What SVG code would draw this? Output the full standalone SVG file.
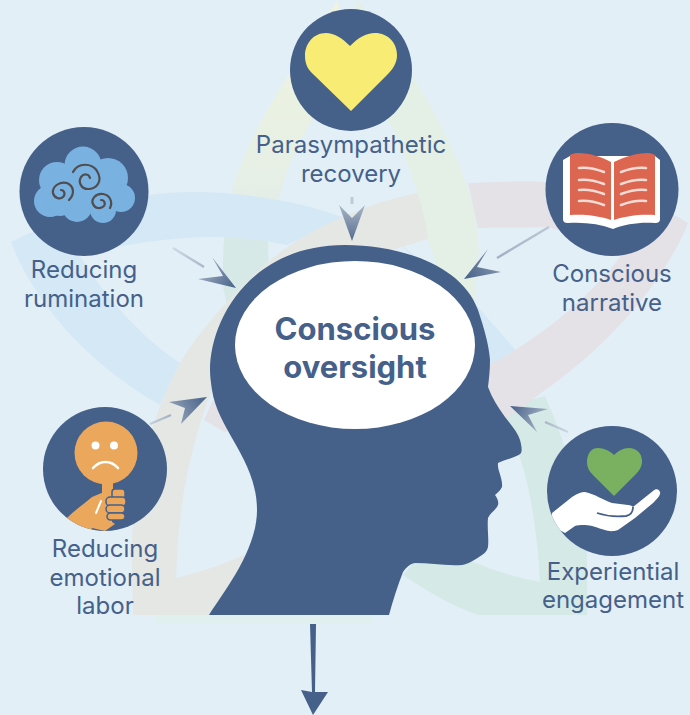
<svg xmlns="http://www.w3.org/2000/svg" width="690" height="715" viewBox="0 0 690 715">
<style>
.n{fill:#456089}
.t{font-family:"Inter","Liberation Sans",sans-serif;font-size:24px;fill:#456089;text-anchor:middle}
.c{font-family:"Inter","Liberation Sans",sans-serif;font-size:31px;font-weight:700;fill:#456089;text-anchor:middle}
.sp{fill:none;stroke:#4f4d4f;stroke-width:2.2;stroke-linecap:round}
.pl{fill:none;stroke:#f3dcd5;stroke-width:2.6;stroke-linecap:round}
.tail{stroke-width:2.4;fill:none}
</style>
<defs>
<linearGradient id="gl" x1="0" y1="0" x2="0" y2="1"><stop offset="0" stop-color="#eff4e0"/><stop offset=".6" stop-color="#e6efe6"/><stop offset=".78" stop-color="#d7e9e7"/><stop offset="1" stop-color="#d7e9e7"/></linearGradient>
<linearGradient id="a1" gradientUnits="userSpaceOnUse" x1="205" y1="268" x2="236" y2="288"><stop offset="0" stop-color="#9aa8bc"/><stop offset="1" stop-color="#456089"/></linearGradient>
<linearGradient id="a2" gradientUnits="userSpaceOnUse" x1="352" y1="205" x2="352" y2="241"><stop offset="0" stop-color="#a9b5c6"/><stop offset="1" stop-color="#566d90"/></linearGradient>
<linearGradient id="a3" gradientUnits="userSpaceOnUse" x1="501" y1="260" x2="464" y2="279"><stop offset="0" stop-color="#8b9ab0"/><stop offset="1" stop-color="#456089"/></linearGradient>
<linearGradient id="a4" gradientUnits="userSpaceOnUse" x1="170" y1="418" x2="207" y2="397"><stop offset="0" stop-color="#9aa8bc"/><stop offset="1" stop-color="#456089"/></linearGradient>
<linearGradient id="a5" gradientUnits="userSpaceOnUse" x1="545" y1="422" x2="510" y2="406"><stop offset="0" stop-color="#a9b5c6"/><stop offset="1" stop-color="#456089"/></linearGradient>
<linearGradient id="t1" gradientUnits="userSpaceOnUse" x1="173" y1="248" x2="204" y2="267"><stop offset="0" stop-color="#ced9e5"/><stop offset="1" stop-color="#aab6c8"/></linearGradient>
<linearGradient id="t3" gradientUnits="userSpaceOnUse" x1="549" y1="227" x2="497" y2="258"><stop offset="0" stop-color="#bcc8d6"/><stop offset="1" stop-color="#a3b0c3"/></linearGradient>
<linearGradient id="t4" gradientUnits="userSpaceOnUse" x1="150" y1="424" x2="171" y2="415"><stop offset="0" stop-color="#c5d0dc"/><stop offset="1" stop-color="#a3b0c3"/></linearGradient>
<linearGradient id="t5" gradientUnits="userSpaceOnUse" x1="568" y1="432" x2="545" y2="422"><stop offset="0" stop-color="#cdd8e3"/><stop offset="1" stop-color="#a9b5c6"/></linearGradient>
<clipPath id="ce"><circle cx="105" cy="469" r="62"/></clipPath>
<clipPath id="cx"><circle cx="612" cy="491" r="65"/></clipPath>
</defs>
<rect width="690" height="715" fill="#e2eff7"/>
<g id="ribbons">
<rect x="155" y="615" width="217" height="8" fill="#dff0ee"/>
<path fill="#d5e9e6" d="M545 396 C556 420 570 460 578 490 C584 515 587 535 587 557 L587 615 L478 615 C450 605 425 590 403 575 L420 555 L473 562 C495 571 518 578 540 582 C538 540 532 495 520 457 L495 410 Z"/>
<path fill="url(#gl)" d="M338 0 C300 55 250 130 233 187 C225 215 222 250 223 287 L228 310 L270 300 L268 240 C270 220 275 205 280 195 C287 165 300 140 312 120 L345 70 Z"/>
<path fill="#d5e8f5" d="M11 242 C60 218 100 203 149 195 C200 187 285 195 345 218 L287 245 C262 240 238 237 213 237 C170 237 120 245 80 255 C90 275 130 330 180 363 L160 405 C90 365 35 305 11 242 Z"/>
<path fill="#d5e8f5" d="M395 240 L478 307 L518 353 L492 367 L460 300 Z"/>
<path fill="#e4e7e3" d="M422 192 C365 203 305 230 267 263 C235 290 200 330 180 363 C150 420 130 490 132 563 L133 615 L215 615 L255 550 C230 562 205 571 176 578 L177 557 C180 500 190 450 208 400 C225 355 260 310 300 280 L345 265 L430 238 C432 236 432 235 431 233 Z"/>
<path fill="#e4e1e7" d="M213 400 L204 420 L225 432 L240 420 Z"/>
<path fill="#e4e1e7" d="M468 183 C490 182 520 181 545 182 L612 190 L678 217 L688 223 C665 280 610 345 545 390 L505 420 L480 385 L488 365 C530 345 590 300 625 250 L548 227 C525 228 500 227 478 228 Z"/>
<path fill="#e4efe6" d="M357 0 C400 50 450 130 470 195 C476 215 480 240 478 260 L475 300 L440 275 L428 240 C425 210 410 165 390 123 L345 60 Z"/>
</g>
<g id="head">
<path class="n" d="M209 615 C225 590 257 550 257 510 C257 460 218 430 212 390 C211 383 210 377 210 370 C210 320 250 245 345 245 C400 245 462 265 478 310 C484 328 489 345 490 360 C490 370 489 378 488 387 C492 398 498 407 505 417 C512 426 518 433 520 440 C522 447 522 451 521 453 C518 457 506 459 498 463 C497 470 503 478 502 487 C500 491 497 493 495 495 C497 498 499 501 498 505 C496 510 490 513 488 518 C487 528 489 538 488 547 C487 551 485 553 482 555 C475 560 468 564 462 565 C445 566 430 563 415 563 C409 564 406 568 403 572 C398 585 393 600 389 615 Z"/>
<ellipse cx="355" cy="345" rx="120" ry="84" fill="#fff"/>
<text class="c" x="355" y="340">Conscious</text>
<text class="c" x="355" y="378">oversight</text>
</g>
<g id="connectors">
<path class="tail" stroke="url(#t1)" d="M173 248 L204 267"/>
<path d="M236 288 L212 257 L223 276 L198 279 Z" fill="url(#a1)"/>
<path d="M350.500 197 L353.500 197 L353.500 204 L350.500 204 Z" fill="#bccada"/>
<path d="M352 241 L339 205 L352 218 L365 205 Z" fill="url(#a2)"/>
<path class="tail" stroke="url(#t3)" d="M549 227 L497 258"/>
<path d="M464 279 L488 249 L477 267 L501 272 Z" fill="url(#a3)"/>
<path class="tail" stroke="url(#t4)" d="M150 424 L171 415"/>
<path d="M207 397 L169 402 L185 408 L181 424 Z" fill="url(#a4)"/>
<path class="tail" stroke="url(#t5)" d="M568 432 L545 422"/>
<path d="M510 406 L548 409 L528 415 L537 432 Z" fill="url(#a5)"/>
<path class="n" d="M310 624 L316 624 L315 692 L328 692 L313 715 L301 690 L312 692 Z"/>
</g>
<g id="parasympathetic">
<circle class="n" cx="351" cy="70" r="61"/>
<path fill="#f9ec75" d="M350 46 C342 38 334 33 326 33 C313 33 305 44 305 56 C305 64 308 70 314 75 L351 111 L387 75 C393 69 397 63 397 55 C397 43 388 33 375 33 C366 33 358 38 350 46 Z"/>
<text class="t" x="351" y="153">Parasympathetic</text>
<text class="t" x="351" y="182">recovery</text>
</g>
<g id="rumination">
<circle class="n" cx="84" cy="191.500" r="64.500"/>
<g fill="#79b1e0"><circle cx="83" cy="165" r="18.500"/><circle cx="57" cy="180" r="18"/><circle cx="108" cy="178" r="20"/><circle cx="50" cy="201" r="16"/><circle cx="121" cy="198" r="14"/><circle cx="77" cy="207" r="15"/><circle cx="103" cy="210" r="13"/><circle cx="60" cy="203" r="13"/><rect x="50" y="175" width="70" height="30"/></g>
<path class="sp" d="M73 172 C78 162 92 163 97 171 C103 181 97 189 88 189 C81 189 78 182 81 177 C84 173 89 174 90 178"/>
<path class="sp" d="M69 200 C75 194 74 186 67 183 C59 181 52 187 53 193 C54 198 60 200 63 197 C66 194 64 190 61 190"/>
<path class="sp" d="M110 208 C113 202 110 195 103 194 C95 193 91 200 93 204 C95 209 101 209 104 206 C106 203 104 200 101 200"/>
<text class="t" x="84" y="278">Reducing</text>
<text class="t" x="84" y="307">rumination</text>
</g>
<g id="narrative">
<circle class="n" cx="612" cy="189.500" r="66.500"/>
<path fill="#fff" d="M563 160 L570 156 L655 156 L660 160 L660 219 C660 222 658 223 655 223 C640 222 625 224 613 229 C600 224 585 222 568 223 C565 223 563 222 563 219 Z"/>
<path fill="#dc6650" d="M570 155 C572 154 574 153 578 153 C590 153 602 157 611 162 L611 220 C600 216 585 214 570 215 Z"/>
<path fill="#dc6650" d="M614 162 C624 157 636 153 648 153 C651 153 653 154 655 155 L655 215 C640 214 625 216 614 220 Z"/>
<path class="pl" d="M579 168 C587 167 596 169 604 172 M579 180 C587 179 596 181 604 184 M579 190 C587 189 596 191 604 194 M579 201 C587 200 596 202 604 205"/>
<path class="pl" d="M621 172 C629 169 638 167 646 168 M621 184 C629 181 638 179 646 180 M621 194 C629 191 638 189 646 190 M621 205 C629 202 638 200 646 201"/>
<text class="t" x="612" y="282">Conscious</text>
<text class="t" x="612" y="311">narrative</text>
</g>
<g id="emotional">
<circle class="n" cx="105" cy="469" r="62"/>
<g clip-path="url(#ce)">
<rect x="102" y="480" width="11" height="35" fill="#eba75c"/>
<path fill="#eba75c" d="M67 518 C75 510 85 503 92 497 L104 492 L112 500 L112 522 L115 524 L105 531 L92 528 L88 536 L70 530 Z"/>
</g>
<circle cx="106" cy="453" r="31.500" fill="#eba75c"/>
<circle cx="95.500" cy="445.500" r="4" fill="#fff"/><circle cx="114" cy="445.500" r="4" fill="#fff"/>
<path d="M93 468 C100 460 111 460 118 468" fill="none" stroke="#fff" stroke-width="2.600" stroke-linecap="round"/>
<path d="M96 513 L101 501" stroke="#fff" stroke-width="2" stroke-linecap="round"/>
<g fill="#eba75c" stroke="#456089" stroke-width="1.500"><rect x="112" y="489" width="13" height="10" rx="3"/><rect x="106" y="497" width="20" height="9" rx="4"/><rect x="106" y="505" width="19" height="8" rx="4"/><rect x="107" y="513" width="18" height="7" rx="3.500"/></g>
<text class="t" x="105" y="557">Reducing</text>
<text class="t" x="105" y="586">emotional</text>
<text class="t" x="105" y="614">labor</text>
</g>
<g id="experiential">
<circle class="n" cx="612" cy="491" r="65"/>
<path fill="#79b160" d="M614 455 C610 451 604 448 598 448 C591 448 587 454 587 462 C587 468 590 472 593 475 L614 496 L635 475 C639 471 642 467 642 461 C642 453 636 448 629 448 C623 448 618 451 614 455 Z"/>
<g clip-path="url(#cx)"><path fill="#fff" d="M552 513 L572 497 C578 493 582 492 585 492 C595 494 603 500 612 503 L628 505 C631 505 632 506 633 507 L653 491 C656 488 659 489 660 492 C661 495 657 499 653 503 L635 518 L618 530 C612 532 608 531 605 530 C598 528 591 525 585 525 C580 525 577 525 575 526 L565 533 L550 525 Z"/></g>
<path d="M597 513 C606 516 617 517 626 516 C631 515 633 511 633 507" fill="none" stroke="#456089" stroke-width="1.800"/>
<text class="t" x="613" y="580">Experiential</text>
<text class="t" x="613" y="608">engagement</text>
</g>
</svg>
